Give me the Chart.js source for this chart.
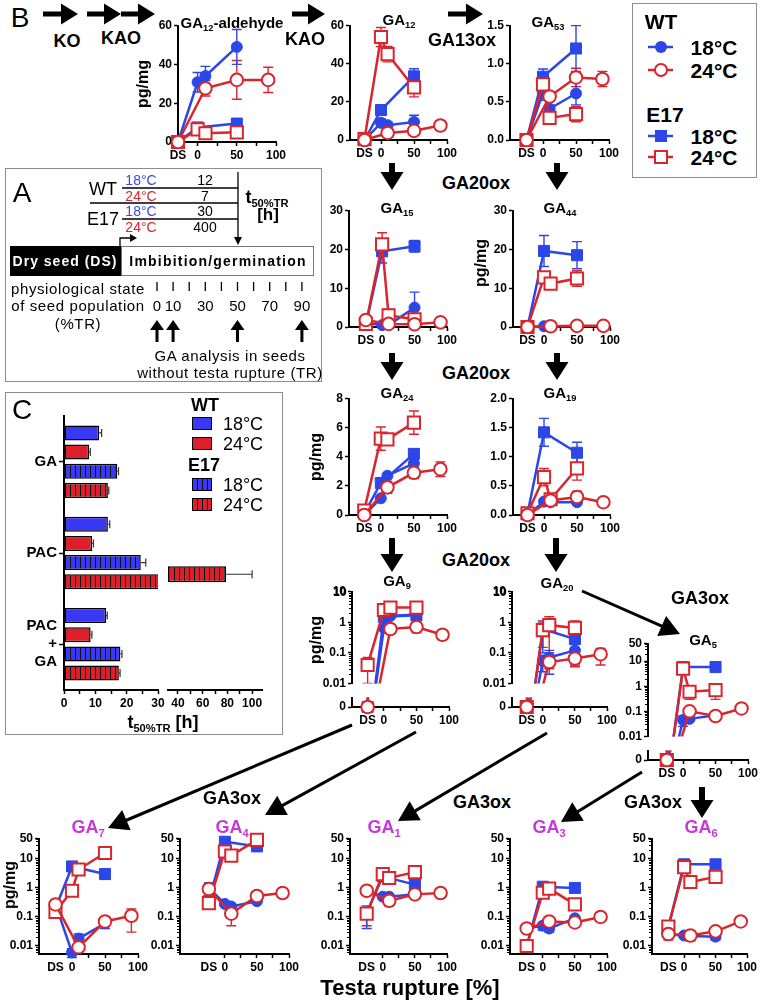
<!DOCTYPE html>
<html>
<head>
<meta charset="utf-8">
<title>GA metabolism in seeds</title>
<script src="https://cdn.jsdelivr.net/npm/chart.js@4.4.1/dist/chart.umd.min.js"></script>
<style>
  body { margin: 0; background: #fff; }
  #page { position: relative; width: 762px; height: 1005px; overflow: hidden; font-family: "Liberation Sans", Arial, sans-serif; color: #000; }
  #page canvas { position: absolute; left: 0; top: 0; }
  .t { position: absolute; transform: translate(-50%, -50%); white-space: nowrap; line-height: 1; font-weight: bold; font-size: 18px; }
  .t sub { font-size: 0.62em; vertical-align: -0.35em; line-height: 0; }
  .frame { position: absolute; border: 1px solid #8c8c8c; box-sizing: border-box; }
  .sw { position: absolute; border: 1.5px solid #000; box-sizing: border-box; }
  svg { position: absolute; left: 0; top: 0; }
</style>
</head>
<body>
<div id="page"></div>
<script>
// x positions of the samples: dry seed (DS) and 0/10/50/90 % testa rupture
const TR_POS = [-25, 0, 10, 50, 90];
const TR_TICKS = [-25, 0, 25, 50, 75, 100];
const TR_LABELS = ['DS', '0', '', '50', '', '100'];

// GA12-aldehyde (pg/mg)
const ald_wt18 = [0, 30.8, 34, 49, null];
const ald_wt24 = [0, null, 27.7, 32, 32];
const ald_e18  = [0, 7.5, null, 9.5, null];
const ald_e24  = [0, 6.5, 4.5, 5, null];
const ald_wt18_sd = [0, 5, 5, 9, null];
const ald_wt24_sd = [0, null, 4, 10, 6.5];

// GA12
const ga12_wt18 = [0, 9, 7.8, 9.5, null];
const ga12_wt24 = [0, null, 3.7, 4.8, 7.6];
const ga12_e18  = [0, 15.7, null, 33.4, null];
const ga12_e24  = [0.5, 54, 45, 27.6, null];
const ga12_wt18_sd = [0, 2, 1.5, 3.5, null];
const ga12_wt24_sd = [0, null, 1, 1, 2.5];
const ga12_e18_sd  = [0, 1.5, null, 4, null];
const ga12_e24_sd  = [0, 5, 4, 5, null];

// GA53
const ga53_wt18 = [0, 0.62, 0.41, 0.61, null];
const ga53_wt24 = [0, null, 0.57, 0.82, 0.8];
const ga53_e18  = [0, 0.83, null, 1.2, null];
const ga53_e24  = [0, 0.73, 0.29, 0.34, null];
const ga53_wt18_sd = [0, 0.1, 0.05, 0.15, null];
const ga53_wt24_sd = [0, null, 0.05, 0.12, 0.1];
const ga53_e18_sd  = [0, 0.1, null, 0.3, null];
const ga53_e24_sd  = [0, 0.1, 0.03, 0.1, null];

// GA15
const ga15_wt18 = [1, 0.5, 0.5, 5, null];
const ga15_wt24 = [1.8, null, 0.8, 0.7, 1.2];
const ga15_e18  = [0.5, 19.5, null, 20.8, null];
const ga15_e24  = [0.8, 21.3, 3, 2, null];
const ga15_wt18_sd = [0, 0, 0, 4, null];
const ga15_e18_sd  = [0, 3, null, 1.5, null];
const ga15_e24_sd  = [0.3, 3, 1.5, 1, null];

// GA44
const ga44_wt18 = [0, 0.2, 0.2, 0.2, null];
const ga44_wt24 = [0, null, 0.2, 0.3, 0.3];
const ga44_e18  = [0, 19.6, null, 18.5, null];
const ga44_e24  = [0, 12.8, 11.2, 12.5, null];
const ga44_e18_sd = [0, 4, null, 3.5, null];
const ga44_e24_sd = [0, 1, 1.5, 2, null];

// GA24
const ga24_wt18 = [0, 1.15, 2.7, 3.55, null];
const ga24_wt24 = [0, null, 1.9, 2.9, 3.15];
const ga24_e18  = [0.1, 2.2, null, 4.2, null];
const ga24_e24  = [0.3, 5.25, 5.2, 6.35, null];
const ga24_wt24_sd = [0, null, 0.4, 0.4, 0.5];
const ga24_e24_sd  = [0.1, 0.8, 0.3, 0.8, null];

// GA19
const ga19_wt18 = [0, 0.23, 0.22, 0.22, null];
const ga19_wt24 = [0, null, 0.25, 0.31, 0.22];
const ga19_e18  = [0.02, 1.42, null, 1.07, null];
const ga19_e24  = [0.03, 0.65, 0.27, 0.8, null];
const ga19_wt24_sd = [0, null, 0.05, 0.1, 0.05];
const ga19_e18_sd  = [0, 0.24, null, 0.18, null];
const ga19_e24_sd  = [0, 0.15, 0.05, 0.2, null];

// GA9
const ga9_wt18 = [0, 0.65, 1.6, 1.8, null];
const ga9_wt24 = [0, null, 0.6, 0.7, 0.39];
const ga9_e18  = [0, 1.5, null, 1.7, null];
const ga9_e24  = [0.04, 2.5, 3.0, 3.0, null];
const ga9_wt24_sd = [0, null, 0, 0.25, 0.12];
const ga9_e18_sd  = [0, 0, null, 0.6, null];
const ga9_e24_sd  = [0.03, 0.8, 0, 1, null];

// GA20
const ga20_wt18 = [0, 0.054, 0.07, 0.12, null];
const ga20_wt24 = [0, null, 0.05, 0.065, 0.09];
const ga20_e18  = [0, 0.6, null, 0.28, null];
const ga20_e24  = [0, 0.55, 0.8, 0.65, null];
const ga20_wt18_sd = [0, 0.03, 0.05, 0.08, null];
const ga20_wt24_sd = [0, null, 0.02, 0.03, 0.05];
const ga20_e18_sd  = [0, 0.5, null, 0.2, null];
const ga20_e24_sd  = [0, 0.4, 0.7, 0.45, null];

// GA5
const ga5_wt18 = [0, 0.045, 0.05, 0.07, null];
const ga5_wt24 = [0, null, 0.1, 0.065, 0.13];
const ga5_e18  = [0, 5.8, null, 5.8, null];
const ga5_e24  = [0, 5, 0.6, 0.7, null];
const ga5_wt18_sd = [0, 0.02, 0, 0, null];
const ga5_e24_sd  = [0, 0, 0.3, 0.4, null];

// GA7
const ga7_wt18 = [0.27, 0.006, 0.018, 0.06, null];
const ga7_wt24 = [0.27, null, 0.009, 0.07, 0.11];
const ga7_e18  = [0.2, 5.5, null, 3, null];
const ga7_e24  = [0.15, 0.8, 4.3, 16, null];
const ga7_wt18_sd = [0, 0.002, 0.008, 0.02, null];
const ga7_wt24_sd = [0, null, 0, 0.02, 0.08];
const ga7_e18_sd  = [0, 1, null, 1, null];
const ga7_e24_sd  = [0.05, 0, 0, 5, null];

// GA4
const ga4_wt18 = [1.0, 0.28, 0.23, 0.35, null];
const ga4_wt24 = [0.92, null, 0.13, 0.53, 0.67];
const ga4_e18  = [0.35, 39, null, 27, null];
const ga4_e24  = [0.3, 18, 13, 45, null];
const ga4_wt18_sd = [0.5, 0, 0, 0, null];
const ga4_wt24_sd = [0, null, 0.08, 0, 0];
const ga4_e24_sd  = [0, 0, 0, 10, null];

// GA1
const ga1_wt18 = [0.8, 0.5, 0.5, 0.6, null];
const ga1_wt24 = [0.8, null, 0.36, 0.6, 0.67];
const ga1_e18  = [0.14, 2.5, null, 1.3, null];
const ga1_e24  = [0.13, 3, 2.2, 3.5, null];
const ga1_wt24_sd = [0, null, 0.12, 0, 0];
const ga1_e18_sd  = [0.1, 0, null, 0, null];
const ga1_e24_sd  = [0.08, 0, 0, 0, null];

// GA3
const ga3_wt18 = [0.04, 0.05, 0.04, 0.09, null];
const ga3_wt24 = [0.04, null, 0.07, 0.065, 0.1];
const ga3_e18  = [0.01, 1.1, null, 1.0, null];
const ga3_e24  = [0.01, 0.68, 0.95, 0.27, null];
const ga3_wt18_sd = [0, 0.015, 0.01, 0, null];

// GA6
const ga6_wt18 = [0.025, 0.023, 0.022, 0.021, null];
const ga6_wt24 = [0.026, null, 0.023, 0.032, 0.07];
const ga6_e18  = [0.045, 6.5, null, 6.5, null];
const ga6_e24  = [0.047, 5.2, 1.6, 2.4, null];
const ga6_wt18_sd = [0, 0, 0, 0.005, null];
const ga6_wt24_sd = [0.01, null, 0.008, 0, 0];

// panel C: t50%TR [h]
const C_GROUPS = ['GA', 'PAC', ['PAC', '+', 'GA']];
const c_wt18 = [11.2, 14, 13.4];
const c_wt24 = [8, 9, 8.5];
const c_e18  = [17, 24.5, 18];
const c_e24  = [14, 79, 17.5];
const c_wt18_sd = [0.8, 0.6, 0.4];
const c_wt24_sd = [0.4, 0.4, 0.4];
const c_e18_sd  = [0.4, 1.6, 0.5];
const c_e24_sd  = [0.3, 21, 0.4];

// panel A
const A_TR_TICKS = [0, 10, 20, 30, 40, 50, 60, 70, 80, 90];
const A_TR_LABELS = [0, 10, 30, 50, 70, 90];
const A_SAMPLED = [0, 10, 50, 90];

const BLUE = '#2c46e8', RED = '#d9262c', MAG = '#c53ad6';
const BAR_BLUE = '#3838f5', BAR_RED = '#dc1f2b';
const LOG_ZERO = 1e-4;   // where a zero sits on a broken log axis (below the visible range)

Chart.defaults.font.family = "'Liberation Sans', Arial, sans-serif";
Chart.defaults.color = '#000';
const TICK_FONT = () => ({size: 12, weight: 'bold'});
const border = () => ({display: true, color: '#000', width: 2});
const grid = (extra) => Object.assign({drawOnChartArea: false, color: '#000', tickLength: 4, tickWidth: 1.5}, extra || {});

const page = document.getElementById('page');

function canvasAt(x, y, w, h) {
  const c = document.createElement('canvas');
  c.width = w; c.height = h;
  c.style.cssText = `left:${x}px;top:${y}px;width:${w}px;height:${h}px;`;
  page.appendChild(c);
  return c;
}

function text(html, x, y, css) {
  const d = document.createElement('div');
  d.className = 't';
  d.innerHTML = html;
  d.style.left = x + 'px';
  d.style.top = y + 'px';
  if (css) d.style.cssText += css;
  page.appendChild(d);
  return d;
}

function frame(x, y, w, h) {
  const d = document.createElement('div');
  d.className = 'frame';
  d.style.cssText = `left:${x}px;top:${y}px;width:${w}px;height:${h}px;`;
  page.appendChild(d);
}

// error bars, vertical
const errBars = {
  id: 'errBars',
  beforeDatasetsDraw(chart, args, opts) {
    const {ctx, chartArea: a, scales: {x, y}} = chart;
    ctx.save();
    ctx.beginPath();
    ctx.rect(a.left - 10, a.top - 10, a.right - a.left + 20, a.bottom - a.top + (opts.clipBottom ? 10 : 20));
    ctx.clip();
    chart.data.datasets.forEach(ds => {
      ctx.strokeStyle = ds.borderColor;
      ctx.lineWidth = 1.4;
      ds.data.forEach(p => {
        if (!p.e) return;
        const lo = y.type === 'logarithmic' ? Math.max(p.y - p.e, y.min * 0.5) : p.y - p.e;
        const px = x.getPixelForValue(p.x);
        const y1 = y.getPixelForValue(p.y + p.e), y2 = y.getPixelForValue(lo);
        ctx.beginPath();
        ctx.moveTo(px, y1); ctx.lineTo(px, y2);
        ctx.moveTo(px - 5, y1); ctx.lineTo(px + 5, y1);
        ctx.moveTo(px - 5, y2); ctx.lineTo(px + 5, y2);
        ctx.stroke();
      });
    });
    ctx.restore();
  }
};

// short minor ticks on log axes
const minorTicks = {
  id: 'minorTicks',
  afterDraw(chart) {
    const y = chart.scales.y;
    if (!y || y.type !== 'logarithmic') return;
    const ctx = chart.ctx;
    ctx.save();
    ctx.strokeStyle = '#000';
    ctx.lineWidth = 1;
    [0.001, 0.01, 0.1, 1, 10].forEach(d => {
      for (let m = 2; m <= 9; m++) {
        const v = m * d;
        if (v < y.min || v > y.max) continue;
        const py = Math.round(y.getPixelForValue(v)) + 0.5;
        ctx.beginPath(); ctx.moveTo(y.right - 3, py); ctx.lineTo(y.right, py); ctx.stroke();
      }
    });
    ctx.restore();
  }
};

// error bars, horizontal (panel C)
const hErr = {
  id: 'hErr',
  afterDatasetsDraw(chart) {
    const {ctx, chartArea: a} = chart;
    const x = chart.scales.x;
    ctx.save();
    ctx.beginPath();
    ctx.rect(a.left, a.top, a.right - a.left, a.bottom - a.top);
    ctx.clip();
    ctx.strokeStyle = '#333';
    ctx.lineWidth = 1.2;
    chart.data.datasets.forEach((ds, di) => {
      chart.getDatasetMeta(di).data.forEach((bar, i) => {
        const v = ds.data[i], e = ds.err[i];
        const x1 = x.getPixelForValue(v), x2 = x.getPixelForValue(v + e);
        ctx.beginPath();
        ctx.moveTo(x1, bar.y); ctx.lineTo(x2, bar.y);
        ctx.moveTo(x2, bar.y - 4); ctx.lineTo(x2, bar.y + 4);
        ctx.stroke();
      });
    });
    ctx.restore();
  }
};

const STYLES = {
  wt18: {color: BLUE, ps: 'circle', r: 5.5, fill: BLUE, bw: 1},
  wt24: {color: RED, ps: 'circle', r: 6.3, fill: '#fff', bw: 2},
  e18:  {color: BLUE, ps: 'rect', r: 7.8, fill: BLUE, bw: 1},
  e24:  {color: RED, ps: 'rect', r: 8.6, fill: '#fff', bw: 2}
};
const DRAW_ORDER = ['wt24', 'e24', 'wt18', 'e18'];   // first one ends up on top

function xScale(min, show) {
  return {
    type: 'linear', display: show, min, max: 100,
    afterBuildTicks: s => { s.ticks = TR_TICKS.filter(v => v >= min).map(v => ({value: v})); },
    afterFit: s => { s.height = show ? 22 : 0; },
    ticks: {autoSkip: false, maxRotation: 0, padding: 2, font: TICK_FONT(),
            callback: v => TR_LABELS[TR_TICKS.indexOf(v)]},
    grid: grid({tickColor: c => (c.tick && c.tick.value < 0) ? 'rgba(0,0,0,0)' : '#000'}),
    border: border()
  };
}
function yLin(max, step, dec) {
  return {type: 'linear', min: 0, max,
          ticks: {stepSize: step, autoSkip: false, padding: 2, font: TICK_FONT(), callback: v => v.toFixed(dec)}};
}
function yLog(min, max, ticks) {
  return {type: 'logarithmic', min, max,
          afterBuildTicks: s => { s.ticks = ticks.map(v => ({value: v})); },
          ticks: {autoSkip: false, padding: 2, font: TICK_FONT(), callback: v => String(v)}};
}
function yZero() {
  return {type: 'linear', min: 0, max: 0.01,
          afterBuildTicks: s => { s.ticks = [{value: 0}]; },
          ticks: {padding: 2, font: TICK_FONT(), callback: () => '0'}};
}

// one small panel of panel B; g gives the pixel box of the plot area
function trChart(g, y, series, errs, opt) {
  opt = opt || {};
  const padL = 4, yW = 30, padT = 10, padR = 14, xH = 22;
  const hasX = opt.hasX !== false;
  const padB = hasX ? 0 : 8;
  const w = g.R - g.L + yW + padL + padR;
  const h = g.B - g.T + padT + (hasX ? xH : padB);
  const cv = canvasAt(g.L - yW - padL, g.T - padT, w, h);
  const datasets = DRAW_ORDER.filter(k => series[k]).map(k => {
    const s = STYLES[k], vals = series[k], ev = errs && errs[k];
    const data = TR_POS.map((x, i) => ({x, v: vals[i], e: ev ? ev[i] : 0}))
      .filter(p => p.v !== null)
      .map(p => ({x: p.x, y: opt.mapY ? opt.mapY(p.v) : p.v, e: p.e}));
    return {label: k, data, borderColor: s.color, backgroundColor: s.fill, borderWidth: 2.5,
            pointStyle: s.ps, pointRadius: s.r, pointBorderWidth: s.bw,
            pointBackgroundColor: s.fill, pointBorderColor: s.color,
            clip: opt.clip || 10, tension: 0};
  });
  Object.assign(y, {afterFit: s => { s.width = yW; }, border: border(), grid: grid()});
  return new Chart(cv, {
    type: 'line',
    data: {datasets},
    options: {
      responsive: false, animation: false, events: [],
      layout: {padding: {left: padL, top: padT, right: padR, bottom: padB}},
      plugins: {legend: {display: false}, tooltip: {enabled: false}, errBars: {clipBottom: !!opt.clipBottom}},
      scales: {x: xScale(g.xmin, hasX), y}
    },
    plugins: [errBars, minorTicks]
  });
}

// log panel with a broken axis: a short "0" strip under the log part
function brokenLog(gUp, gLow, max, ticks, series, errs) {
  trChart(gUp, yLog(0.01, max, ticks), series, errs,
          {hasX: false, mapY: v => v === 0 ? LOG_ZERO : v, clip: {left: 10, right: 10, top: 10, bottom: 0}, clipBottom: true});
  trChart(gLow, yZero(), series, null, {clip: {left: 10, right: 10, top: 0, bottom: 10}});
}

function s4(a, b, c, d) { return {wt18: a, wt24: b, e18: c, e24: d}; }

// ---------- panel B charts ----------
trChart({L: 178, T: 25, R: 276, B: 142, xmin: -25}, yLin(60, 20, 0),
  s4(ald_wt18, ald_wt24, ald_e18, ald_e24), {wt18: ald_wt18_sd, wt24: ald_wt24_sd});
trChart({L: 350, T: 25, R: 447, B: 140, xmin: -47}, yLin(60, 20, 0),
  s4(ga12_wt18, ga12_wt24, ga12_e18, ga12_e24), s4(ga12_wt18_sd, ga12_wt24_sd, ga12_e18_sd, ga12_e24_sd));
trChart({L: 510, T: 25, R: 609, B: 140, xmin: -50}, yLin(1.5, 0.5, 1),
  s4(ga53_wt18, ga53_wt24, ga53_e18, ga53_e24), s4(ga53_wt18_sd, ga53_wt24_sd, ga53_e18_sd, ga53_e24_sd));
trChart({L: 349, T: 210, R: 447, B: 327, xmin: -51}, yLin(30, 10, 0),
  s4(ga15_wt18, ga15_wt24, ga15_e18, ga15_e24), {wt18: ga15_wt18_sd, e18: ga15_e18_sd, e24: ga15_e24_sd});
trChart({L: 513, T: 210, R: 610, B: 327, xmin: -47}, yLin(30, 10, 0),
  s4(ga44_wt18, ga44_wt24, ga44_e18, ga44_e24), {e18: ga44_e18_sd, e24: ga44_e24_sd});
trChart({L: 349, T: 398, R: 447, B: 515, xmin: -48}, yLin(8, 2, 0),
  s4(ga24_wt18, ga24_wt24, ga24_e18, ga24_e24), {wt24: ga24_wt24_sd, e24: ga24_e24_sd});
trChart({L: 513, T: 398, R: 610, B: 515, xmin: -47}, yLin(2, 0.5, 1),
  s4(ga19_wt18, ga19_wt24, ga19_e18, ga19_e24), {wt24: ga19_wt24_sd, e18: ga19_e18_sd, e24: ga19_e24_sd});

brokenLog({L: 352, T: 591, R: 449, B: 686, xmin: -49}, {L: 352, T: 697, R: 449, B: 707, xmin: -49},
  10, [0.01, 0.1, 1, 10], s4(ga9_wt18, ga9_wt24, ga9_e18, ga9_e24), {wt24: ga9_wt24_sd, e18: ga9_e18_sd, e24: ga9_e24_sd});
brokenLog({L: 512, T: 591, R: 607, B: 686, xmin: -48}, {L: 512, T: 697, R: 607, B: 707, xmin: -48},
  10, [0.01, 0.1, 1, 10], s4(ga20_wt18, ga20_wt24, ga20_e18, ga20_e24), s4(ga20_wt18_sd, ga20_wt24_sd, ga20_e18_sd, ga20_e24_sd));
brokenLog({L: 648, T: 643, R: 748, B: 739, xmin: -54}, {L: 648, T: 750, R: 748, B: 760, xmin: -54},
  50, [0.01, 0.1, 1, 10, 50], s4(ga5_wt18, ga5_wt24, ga5_e18, ga5_e24), {wt18: ga5_wt18_sd, e24: ga5_e24_sd});

const LOG_BOTTOM = [0.01, 0.1, 1, 10, 50];
trChart({L: 39, T: 838, R: 138, B: 954, xmin: -50}, yLog(0.0053, 50, LOG_BOTTOM),
  s4(ga7_wt18, ga7_wt24, ga7_e18, ga7_e24), s4(ga7_wt18_sd, ga7_wt24_sd, ga7_e18_sd, ga7_e24_sd));
trChart({L: 180, T: 838, R: 289, B: 954, xmin: -70}, yLog(0.0053, 50, LOG_BOTTOM),
  s4(ga4_wt18, ga4_wt24, ga4_e18, ga4_e24), {wt18: ga4_wt18_sd, wt24: ga4_wt24_sd, e24: ga4_e24_sd});
trChart({L: 350, T: 838, R: 447, B: 954, xmin: -51}, yLog(0.0053, 50, LOG_BOTTOM),
  s4(ga1_wt18, ga1_wt24, ga1_e18, ga1_e24), {wt24: ga1_wt24_sd, e18: ga1_e18_sd, e24: ga1_e24_sd});
trChart({L: 510, T: 838, R: 607, B: 954, xmin: -51}, yLog(0.0053, 50, LOG_BOTTOM),
  s4(ga3_wt18, ga3_wt24, ga3_e18, ga3_e24), {wt18: ga3_wt18_sd});
trChart({L: 652, T: 838, R: 747, B: 954, xmin: -51}, yLog(0.0053, 50, LOG_BOTTOM),
  s4(ga6_wt18, ga6_wt24, ga6_e18, ga6_e24), {wt18: ga6_wt18_sd, wt24: ga6_wt24_sd});

// ---------- panel C (broken x axis: two charts side by side) ----------
function stripes(color) {
  const c = document.createElement('canvas');
  c.width = 5; c.height = 4;
  const g = c.getContext('2d');
  g.fillStyle = color; g.fillRect(0, 0, 5, 4);
  g.fillStyle = '#111'; g.fillRect(4, 0, 1, 4);
  return g.createPattern(c, 'repeat');
}
function cChart(g, showY) {
  const padL = showY ? 4 : 8, yW = showY ? 54 : 0, padT = 10, padR = 12, xH = 22;
  const w = g.R - g.L + padL + yW + padR, h = g.B - g.T + padT + xH;
  const cv = canvasAt(g.L - yW - padL, g.T - padT, w, h);
  const mk = (label, data, err, bg) => ({label, data, err, backgroundColor: bg, borderColor: '#000', borderWidth: 1.5,
    borderSkipped: false, base: g.min, clip: {left: showY ? 2 : 0, right: 0, top: 2, bottom: 2}});
  new Chart(cv, {
    type: 'bar',
    data: {labels: C_GROUPS, datasets: [
      mk('WT 18°C', c_wt18, c_wt18_sd, BAR_BLUE),
      mk('WT 24°C', c_wt24, c_wt24_sd, BAR_RED),
      mk('E17 18°C', c_e18, c_e18_sd, stripes(BAR_BLUE)),
      mk('E17 24°C', c_e24, c_e24_sd, stripes(BAR_RED))
    ]},
    options: {
      indexAxis: 'y', responsive: false, animation: false, events: [],
      layout: {padding: {left: padL, top: padT, right: padR, bottom: 0}},
      datasets: {bar: {categoryPercentage: 0.84, barPercentage: 0.78}},
      plugins: {legend: {display: false}, tooltip: {enabled: false}},
      scales: {
        x: {type: 'linear', min: g.min, max: g.max,
            afterBuildTicks: s => { s.ticks = g.ticks.map(v => ({value: v})); },
            afterFit: s => { s.height = xH; },
            ticks: {autoSkip: false, maxRotation: 0, padding: 2, font: TICK_FONT(),
                    callback: v => g.labels.includes(v) ? String(v) : ''},
            grid: grid(), border: border()},
        y: {display: showY, afterFit: s => { s.width = showY ? yW : 0; },
            ticks: {font: {size: 15, weight: 'bold'}, padding: 2},
            grid: grid({offset: false, tickLength: 5}), border: border()}
      }
    },
    plugins: [hErr]
  });
}
cChart({L: 64, T: 397, R: 158, B: 690, min: 0, max: 30,
        ticks: [0, 5, 10, 15, 20, 25, 30], labels: [0, 10, 20, 30]}, true);
cChart({L: 168, T: 397, R: 262, B: 690, min: 32, max: 108,
        ticks: [40, 50, 60, 70, 80, 90, 100], labels: [40, 60, 80, 100]}, false);

// ---------- arrows, boxes and other drawing ----------
const svg = [];
const poly = (pts, fill) => svg.push(`<polygon points="${pts.map(p => p.join(',')).join(' ')}" fill="${fill || '#000'}"/>`);
const line = (x1, y1, x2, y2, w, c) => svg.push(`<line x1="${x1}" y1="${y1}" x2="${x2}" y2="${y2}" stroke="${c || '#000'}" stroke-width="${w || 1}"/>`);
function arrowRight(x1, x2, y) {
  const hd = 17, sh = 5, hh = 21;
  poly([[x1, y - sh / 2], [x2 - hd, y - sh / 2], [x2 - hd, y - hh / 2], [x2, y], [x2 - hd, y + hh / 2], [x2 - hd, y + sh / 2], [x1, y + sh / 2]]);
}
function arrowV(x, y1, y2, hd, sw, hw) {
  const s = Math.sign(y2 - y1);
  poly([[x - sw / 2, y1], [x + sw / 2, y1], [x + sw / 2, y2 - s * hd], [x + hw / 2, y2 - s * hd], [x, y2], [x - hw / 2, y2 - s * hd], [x - sw / 2, y2 - s * hd]]);
}
function lineArrow(x1, y1, x2, y2) {
  const hd = 20, hw = 22;
  const L = Math.hypot(x2 - x1, y2 - y1), ux = (x2 - x1) / L, uy = (y2 - y1) / L;
  const bx = x2 - ux * hd, by = y2 - uy * hd;
  line(x1, y1, bx + ux * 2, by + uy * 2, 3);
  poly([[x2, y2], [bx - uy * hw / 2, by + ux * hw / 2], [bx + uy * hw / 2, by - ux * hw / 2]]);
}

arrowRight(43, 78, 14); arrowRight(87, 121, 14); arrowRight(121, 155, 14);
arrowRight(292, 325, 14); arrowRight(448, 483, 14);
[[392, 163, 190], [557, 163, 190], [392, 353, 380], [557, 353, 380], [392, 538, 572], [556, 538, 572], [702, 787, 818]]
  .forEach(a => arrowV(a[0], a[1], a[2], 18, 6, 23));
lineArrow(582, 591, 680, 634);
lineArrow(352, 725, 108, 828);
lineArrow(416, 732, 265, 815);
lineArrow(547, 733, 398, 821);
lineArrow(642, 772, 561, 822);

// panel A drawing
line(122, 188, 238, 188, 1.3); line(90, 203, 238, 203, 1.6); line(122, 219, 238, 219, 1.3);
line(238, 172, 238, 238, 1.3); poly([[234, 237], [242, 237], [238, 245]]);
svg.push('<polyline points="120,246 120,238 131,238" fill="none" stroke="#000" stroke-width="1.3"/>');
poly([[130, 234], [137, 238], [130, 242]]);
svg.push('<rect x="10" y="246" width="111" height="30" fill="#000"/>');
svg.push('<rect x="121.5" y="246.5" width="192" height="29" fill="#fff" stroke="#777" stroke-width="1"/>');
const aX = v => 157 + v * 1.61;
A_TR_TICKS.forEach(v => line(aX(v), 282, aX(v), 291, 1.3));
A_SAMPLED.forEach(v => arrowV(aX(v), 342, 320, 10, 3, 14));

// top-right legend markers
line(648, 47, 673, 47, 2.5, BLUE); svg.push(`<circle cx="661" cy="47" r="6" fill="${BLUE}"/>`);
line(648, 70, 673, 70, 2.5, RED); svg.push(`<circle cx="661" cy="70" r="6" fill="#fff" stroke="${RED}" stroke-width="2"/>`);
line(648, 136, 673, 136, 2.5, BLUE); svg.push(`<rect x="655" y="130" width="12" height="12" fill="${BLUE}"/>`);
line(648, 157, 673, 157, 2.5, RED); svg.push(`<rect x="655" y="151" width="12" height="12" fill="#fff" stroke="${RED}" stroke-width="2"/>`);

page.insertAdjacentHTML('afterbegin', `<svg width="762" height="1005">${svg.join('')}</svg>`);

frame(5, 168, 317, 214);
frame(5, 392, 278, 343);
frame(632, 3, 125, 175);

// ---------- text ----------
const N = 'font-weight:normal;';
text('B', 20, 18, N + 'font-size:28px');
text('KO', 67, 41); text('KAO', 121, 38); text('KAO', 305, 39); text('GA13ox', 462, 40);
text('GA20ox', 476, 183); text('GA20ox', 476, 373); text('GA20ox', 476, 560);
text('GA3ox', 700, 598); text('GA3ox', 232, 798); text('GA3ox', 482, 802); text('GA3ox', 653, 802);

const T15 = 'font-size:15px';
text('GA<sub>12</sub>-aldehyde', 232, 22, T15);
text('GA<sub>12</sub>', 399, 19, T15);
text('GA<sub>53</sub>', 548, 21, T15);
text('GA<sub>15</sub>', 397, 207, T15);
text('GA<sub>44</sub>', 560, 207, T15);
text('GA<sub>24</sub>', 397, 392, T15);
text('GA<sub>19</sub>', 560, 392, T15);
text('GA<sub>9</sub>', 397, 580, T15);
text('GA<sub>20</sub>', 557, 582, T15);
text('GA<sub>5</sub>', 703, 639, T15);
const TM = 'font-size:18px;color:' + MAG;
text('GA<sub>7</sub>', 88, 827, TM);
text('GA<sub>4</sub>', 232, 827, TM);
text('GA<sub>1</sub>', 384, 827, TM);
text('GA<sub>3</sub>', 549, 827, TM);
text('GA<sub>6</sub>', 701, 827, TM);

const PG = 'font-size:16px;transform:translate(-50%,-50%) rotate(-90deg)';
text('pg/mg', 143, 84, PG); text('pg/mg', 481, 263, PG); text('pg/mg', 316, 457, PG);
text('pg/mg', 316, 640, PG); text('pg/mg', 10, 885, PG);
text('Testa rupture [%]', 410, 988, 'font-size:22px');

// top tick of the two broken log axes (GA9, GA20)
text('10', 340, 592, 'font-size:12px');
text('10', 500, 592, 'font-size:12px');

// legend B
const L21 = 'font-size:21px';
text('WT', 661, 21, L21); text('18°C', 714, 47, L21); text('24°C', 714, 70, L21);
text('E17', 665, 114, L21); text('18°C', 714, 136, L21); text('24°C', 714, 157, L21);

// panel A text
const A14 = N + 'font-size:14px;';
text('A', 22, 193, N + 'font-size:28px');
text('WT', 103, 189, N + 'font-size:18px'); text('E17', 103, 219, N + 'font-size:18px');
text('18°C', 141, 180, A14 + 'color:#3a4ae0'); text('24°C', 141, 196, A14 + 'color:' + RED);
text('18°C', 141, 211, A14 + 'color:#3a4ae0'); text('24°C', 141, 227, A14 + 'color:' + RED);
text('12', 205, 180, A14); text('7', 205, 196, A14); text('30', 205, 211, A14); text('400', 205, 227, A14);
text('t<sub>50%TR</sub>', 267, 197, 'font-size:18px');
text('[h]', 268, 214, 'font-size:17px');
text('Dry seed (DS)', 65, 261, 'font-size:14px;letter-spacing:1px;color:#fff');
text('Imbibition/germination', 218, 261, 'font-size:14px;letter-spacing:1.2px');
const A15 = N + 'font-size:15px;letter-spacing:0.6px';
text('physiological state', 78, 288, A15);
text('of seed population', 78, 305, A15);
text('(%TR)', 78, 323, A15);
A_TR_LABELS.forEach(v => text(String(v), aX(v), 305, N + 'font-size:15px'));
text('GA analysis in seeds', 230, 355, A15);
text('without testa rupture (TR)', 230, 372, A15);

// panel C text + legend
text('C', 22, 410, N + 'font-size:28px');
text('WT', 205, 405); text('E17', 204, 465);
[[417, BAR_BLUE, false, '18°C'], [437, BAR_RED, false, '24°C'], [478, BAR_BLUE, true, '18°C'], [498, BAR_RED, true, '24°C']]
  .forEach(([y, c, hatch, lab]) => {
    const d = document.createElement('div');
    d.className = 'sw';
    d.style.cssText = `left:192px;top:${y}px;width:20px;height:13px;background:` +
      (hatch ? `repeating-linear-gradient(90deg, ${c} 0 4px, #111 4px 5px)` : c);
    page.appendChild(d);
    text(lab, 243, y + 6.5, N + 'font-size:18px');
  });
text('t<sub>50%TR</sub> [h]', 163, 722, 'font-size:18px');
</script>
</body>
</html>
